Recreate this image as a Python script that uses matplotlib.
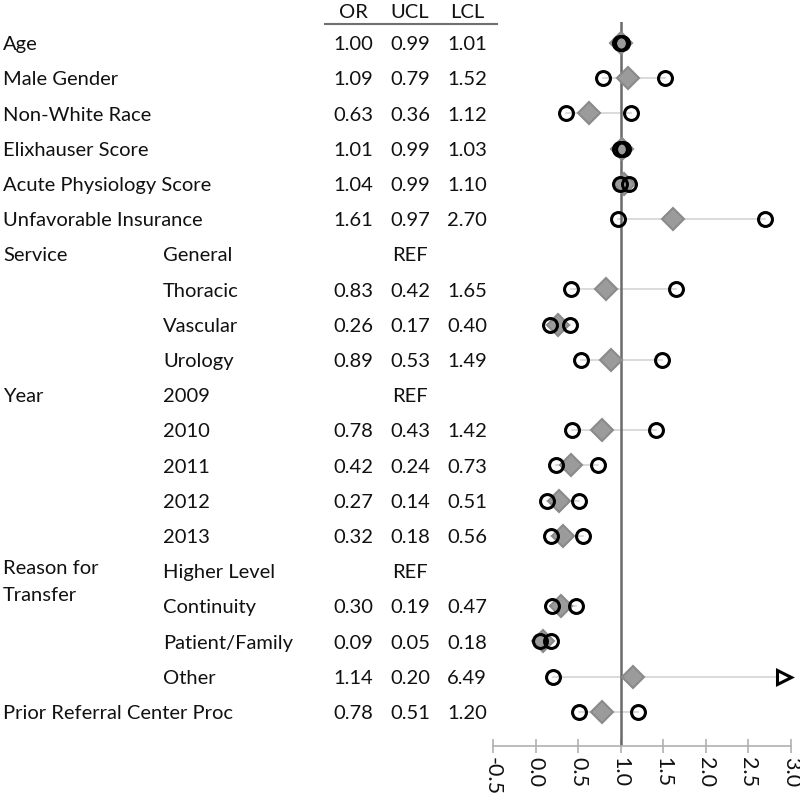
import numpy as np
import matplotlib
matplotlib.use("Agg")
import matplotlib.pyplot as plt
from matplotlib import transforms

plt.rcParams["font.family"] = ["Lato", "DejaVu Sans"]

# ---- data ----
group_labels = ["Age", "Male Gender", "Non-White Race", "Elixhauser Score",
                "Acute Physiology Score", "Unfavorable Insurance",
                "Service", "", "", "",
                "Year", "", "", "", "",
                "Reason for\nTransfer", "", "", "",
                "Prior Referral Center Proc"]
level_labels = ["", "", "", "", "", "",
                "General", "Thoracic", "Vascular", "Urology",
                "2009", "2010", "2011", "2012", "2013",
                "Higher Level", "Continuity", "Patient/Family", "Other",
                ""]
odds = [1.00, 1.09, 0.63, 1.01, 1.04, 1.61,
        None, 0.83, 0.26, 0.89,
        None, 0.78, 0.42, 0.27, 0.32,
        None, 0.30, 0.09, 1.14,
        0.78]
ucl = [0.99, 0.79, 0.36, 0.99, 0.99, 0.97,
       None, 0.42, 0.17, 0.53,
       None, 0.43, 0.24, 0.14, 0.18,
       None, 0.19, 0.05, 0.20,
       0.51]
lcl = [1.01, 1.52, 1.12, 1.03, 1.10, 2.70,
       None, 1.65, 0.40, 1.49,
       None, 1.42, 0.73, 0.51, 0.56,
       None, 0.47, 0.18, 6.49,
       1.20]
x_ticks = [-0.5, 0.0, 0.5, 1.0, 1.5, 2.0, 2.5, 3.0]

W, H = 800, 796
FS = 14.5
X_MIN, X_MAX = -0.5, 3.0
DY = 0.05  # small nudge so text sits on the row centre

fig = plt.figure(figsize=(W / 100, H / 100), dpi=100)
# forest panel: x from 493px to 791px, y from 22px to 746px (top origin)
ax = fig.add_axes([493 / W, (H - 746) / H, 298 / W, 724 / H])

n = len(odds)
rows = np.arange(n)
ax.set_xlim(X_MIN, X_MAX)
ax.set_ylim((746 - 43) / 35.2, -(43 - 22) / 35.2)

orr = np.array([np.nan if v is None else v for v in odds])
lo = np.array([np.nan if v is None else v for v in ucl])
hi = np.array([np.nan if v is None else v for v in lcl])
hi_clip = np.where(hi > X_MAX, X_MAX - 0.08, hi)

# connector lines
for i in rows:
    if np.isnan(orr[i]):
        continue
    ax.plot([lo[i], hi_clip[i]], [i, i], color="#d4d4d4", lw=1.2, zorder=1)

ax.axvline(1.0, color="#6a6a6a", lw=1.8, zorder=2)

ax.plot(orr, rows, ls="none", marker="D", ms=11.5, mfc="#9b9b9b",
        mec="#8a8a8a", mew=1.5, zorder=3)
inside = hi <= X_MAX
circ = dict(ls="none", marker="o", ms=10, mfc="none", mec="black",
            mew=2.2, zorder=4)
ax.plot(lo, rows, **circ)
ax.plot(np.where(inside, hi, np.nan), rows, **circ)
ax.plot(np.where(~inside, hi_clip, np.nan), rows, ls="none", marker=">",
        ms=10, mfc="white", mec="black", mew=2.2, zorder=4, clip_on=False)

for s in ["left", "top", "right"]:
    ax.spines[s].set_visible(False)
ax.spines["bottom"].set_color("#b0b0b0")
ax.spines["bottom"].set_linewidth(1.2)
ax.set_yticks([])
ax.set_xticks(x_ticks)
ax.set_xticklabels([f"{t:.1f}" for t in x_ticks], rotation=-90, fontsize=15.5,
                   va="top", ha="center")
ax.tick_params(axis="x", direction="inout", length=10, width=1.2,
               color="#b0b0b0", pad=3, labelcolor="#111111")

# ---- table text ----
tr = transforms.blended_transform_factory(fig.transFigure, ax.transData)
txt = dict(fontsize=FS, color="#111111", va="center", transform=tr)

col_group, col_level = 3, 163
col_or, col_u, col_l = 353, 410, 467

for i in rows:
    y = i + DY
    g = group_labels[i]
    if "\n" in g:
        a, b = g.split("\n")
        fig.text(col_group / W, y - 0.12, a, ha="left", **txt)
        fig.text(col_group / W, y + 0.65, b, ha="left", **txt)
    elif g:
        fig.text(col_group / W, y, g, ha="left", **txt)
    if level_labels[i]:
        fig.text(col_level / W, y, level_labels[i], ha="left", **txt)
    if np.isnan(orr[i]):
        fig.text(col_u / W, y, "REF", ha="center", **txt)
    else:
        fig.text(col_or / W, y, f"{orr[i]:.2f}", ha="center", **txt)
        fig.text(col_u / W, y, f"{lo[i]:.2f}", ha="center", **txt)
        fig.text(col_l / W, y, f"{hi[i]:.2f}", ha="center", **txt)

# header
for xp, lab in [(col_or, "OR"), (col_u, "UCL"), (col_l, "LCL")]:
    fig.text(xp / W, 1 - 12 / H, lab, ha="center", va="center",
             fontsize=FS, color="#111111")
fig.add_artist(plt.Line2D([325 / W, 497 / W], [1 - 24 / H, 1 - 24 / H],
                          color="#707070", lw=1.5))

fig.savefig("out.png", dpi=100)
